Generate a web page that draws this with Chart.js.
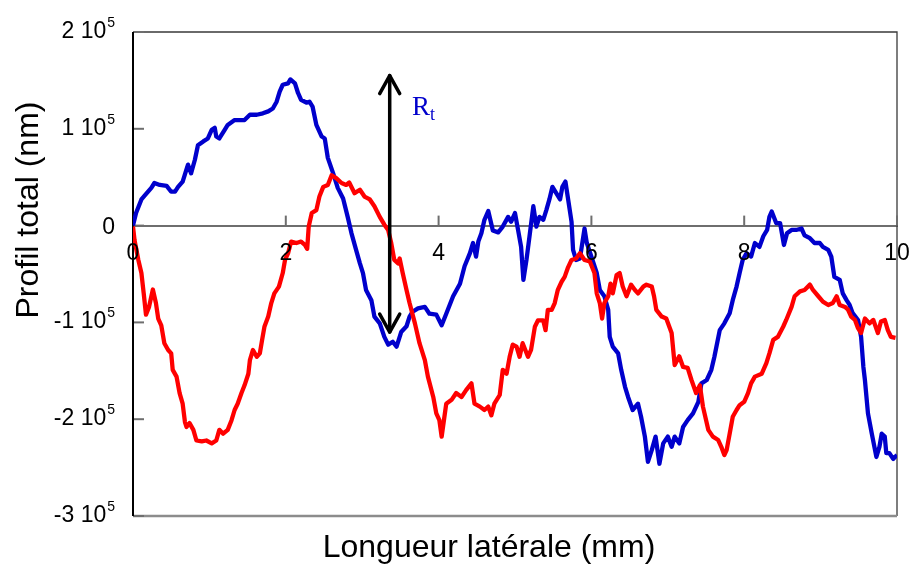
<!DOCTYPE html>
<html>
<head>
<meta charset="utf-8">
<script src="https://cdn.jsdelivr.net/npm/chart.js@4.4.0/dist/chart.umd.min.js"></script>
<style>
    html, body { margin: 0; padding: 0; background: #fff; }
    #wrap { width: 912px; height: 565px; }
</style>
</head>
<body>
<div id="wrap"><canvas id="profil" width="912" height="565"></canvas></div>
<script>
// lateral position (mm) and total profile (units of 10^5 nm)
var blueX = [0.00, 0.04, 0.11, 0.18, 0.24, 0.28, 0.35, 0.44, 0.50, 0.55, 0.59, 0.65, 0.70, 0.72, 0.76, 0.81, 0.85, 0.92, 0.98,
    1.03, 1.07, 1.09, 1.13, 1.20, 1.24, 1.33, 1.46, 1.53, 1.62, 1.70, 1.77, 1.83, 1.88, 1.92, 1.96, 2.03, 2.06, 2.12, 2.16,
    2.20, 2.27, 2.31, 2.35, 2.40, 2.47, 2.51, 2.55, 2.62, 2.68, 2.75, 2.81, 2.86, 2.92, 2.97, 3.01, 3.05, 3.12, 3.16, 3.23,
    3.29, 3.34, 3.40, 3.45, 3.51, 3.58, 3.62, 3.66, 3.73, 3.82, 3.88, 3.97, 4.04, 4.10, 4.19, 4.28, 4.34, 4.41, 4.45, 4.49,
    4.52, 4.56, 4.60, 4.65, 4.71, 4.78, 4.84, 4.91, 4.95, 5.00, 5.04, 5.08, 5.11, 5.15, 5.19, 5.24, 5.28, 5.32, 5.37, 5.41,
    5.45, 5.49, 5.54, 5.59, 5.62, 5.66, 5.69, 5.74, 5.76, 5.80, 5.85, 5.91, 5.94, 6.00, 6.07, 6.11, 6.17, 6.22, 6.24, 6.28,
    6.35, 6.39, 6.44, 6.48, 6.54, 6.61, 6.65, 6.70, 6.74, 6.79, 6.84, 6.89, 6.94, 7.00, 7.05, 7.09, 7.15, 7.20, 7.26, 7.33,
    7.40, 7.44, 7.51, 7.57, 7.61, 7.68, 7.74, 7.81, 7.85, 7.90, 7.94, 7.98, 8.03, 8.09, 8.14, 8.20, 8.25, 8.30, 8.33, 8.36,
    8.42, 8.47, 8.52, 8.56, 8.62, 8.68, 8.75, 8.79, 8.86, 8.92, 8.99, 9.03, 9.10, 9.14, 9.18, 9.25, 9.29, 9.34, 9.38, 9.42,
    9.49, 9.53, 9.56, 9.58, 9.62, 9.67, 9.73, 9.77, 9.80, 9.84, 9.86, 9.90, 9.95, 10.00];
var blueY = [0, 0.13, 0.27, 0.335, 0.39, 0.44, 0.42, 0.41, 0.35, 0.35, 0.40, 0.455, 0.58, 0.63, 0.54, 0.68, 0.83, 0.87, 0.90,
    0.99, 1.01, 0.92, 0.90, 0.99, 1.04, 1.09, 1.09, 1.145, 1.145, 1.16, 1.18, 1.21, 1.28, 1.385, 1.455, 1.47, 1.51, 1.47, 1.37,
    1.30, 1.27, 1.28, 1.23, 1.04, 0.92, 0.90, 0.70, 0.54, 0.39, 0.28, 0.09, -0.08, -0.25, -0.39, -0.49, -0.665, -0.77, -0.94, -1.01,
    -1.15, -1.23, -1.20, -1.25, -1.10, -1.04, -0.94, -0.89, -0.855, -0.84, -0.91, -0.92, -1.03, -0.91, -0.73, -0.60, -0.42, -0.285, -0.18, -0.32,
    -0.165, -0.08, 0.06, 0.15, -0.05, -0.07, -0.01, 0.09, 0.04, 0.13, -0.045, -0.22, -0.56, -0.355, -0.11, 0.20, -0.01, 0.09, 0.06, 0.16,
    0.27, 0.40, 0.335, 0.27, 0.40, 0.455, 0.30, 0.04, -0.25, -0.355, -0.34, -0.03, -0.18, -0.32, -0.49, -0.665, -0.73, -0.87, -1.15, -1.25,
    -1.32, -1.49, -1.665, -1.77, -1.905, -1.84, -1.975, -2.18, -2.44, -2.32, -2.18, -2.46, -2.25, -2.18, -2.285, -2.18, -2.25, -2.08, -2.01, -1.94,
    -1.82, -1.63, -1.595, -1.49, -1.355, -1.08, -1.01, -0.905, -0.77, -0.63, -0.49, -0.355, -0.285, -0.32, -0.18, -0.22, -0.11, -0.045, 0.09, 0.145,
    0.025, 0.025, -0.20, -0.08, -0.045, -0.045, -0.03, -0.10, -0.13, -0.18, -0.18, -0.22, -0.25, -0.32, -0.53, -0.56, -0.70, -0.77, -0.82, -0.905,
    -0.975, -1.15, -1.46, -1.595, -1.94, -2.15, -2.39, -2.285, -2.15, -2.18, -2.35, -2.35, -2.41, -2.37];

var redX = [0.00, 0.02, 0.07, 0.11, 0.14, 0.17, 0.21, 0.26, 0.30, 0.33, 0.37, 0.41, 0.46, 0.50, 0.52, 0.57, 0.61, 0.65, 0.68,
    0.70, 0.74, 0.79, 0.83, 0.90, 0.96, 1.03, 1.09, 1.13, 1.18, 1.24, 1.29, 1.33, 1.37, 1.42, 1.46, 1.51, 1.53, 1.57, 1.62,
    1.66, 1.69, 1.72, 1.77, 1.81, 1.85, 1.91, 1.96, 1.99, 2.03, 2.07, 2.14, 2.20, 2.25, 2.28, 2.30, 2.34, 2.40, 2.44, 2.49,
    2.55, 2.60, 2.66, 2.73, 2.79, 2.83, 2.90, 2.97, 3.03, 3.10, 3.16, 3.23, 3.29, 3.34, 3.38, 3.42, 3.47, 3.49, 3.53, 3.58,
    3.62, 3.69, 3.75, 3.82, 3.86, 3.93, 3.97, 4.01, 4.04, 4.07, 4.10, 4.17, 4.23, 4.30, 4.36, 4.43, 4.47, 4.54, 4.60, 4.65,
    4.69, 4.73, 4.80, 4.84, 4.89, 4.93, 4.97, 5.02, 5.06, 5.10, 5.17, 5.21, 5.26, 5.30, 5.37, 5.40, 5.43, 5.48, 5.52, 5.56,
    5.61, 5.65, 5.69, 5.74, 5.80, 5.85, 5.91, 5.98, 6.04, 6.07, 6.11, 6.14, 6.17, 6.22, 6.25, 6.28, 6.33, 6.37, 6.41, 6.46,
    6.52, 6.57, 6.61, 6.68, 6.72, 6.79, 6.82, 6.85, 6.92, 6.98, 7.05, 7.09, 7.15, 7.20, 7.26, 7.31, 7.37, 7.42, 7.46, 7.53,
    7.59, 7.66, 7.70, 7.74, 7.77, 7.81, 7.85, 7.90, 7.94, 8.00, 8.05, 8.09, 8.14, 8.23, 8.29, 8.33, 8.38, 8.44, 8.51, 8.55,
    8.62, 8.66, 8.73, 8.79, 8.86, 8.90, 8.97, 9.03, 9.10, 9.16, 9.21, 9.25, 9.32, 9.36, 9.40, 9.45, 9.49, 9.53, 9.58, 9.64,
    9.69, 9.75, 9.79, 9.84, 9.88, 9.92, 9.98];
var redY = [-0.01, -0.15, -0.355, -0.49, -0.70, -0.92, -0.84, -0.66, -0.80, -0.96, -1.03, -1.215, -1.285, -1.32, -1.49, -1.56, -1.73, -1.84, -2.03,
    -2.08, -2.04, -2.11, -2.22, -2.23, -2.22, -2.25, -2.22, -2.11, -2.15, -2.11, -2.01, -1.905, -1.84, -1.73, -1.65, -1.53, -1.39, -1.285, -1.355,
    -1.32, -1.18, -1.045, -0.94, -0.80, -0.70, -0.63, -0.49, -0.355, -0.285, -0.165, -0.18, -0.165, -0.20, -0.24, -0.01, 0.13, 0.16, 0.30, 0.40,
    0.42, 0.52, 0.49, 0.44, 0.42, 0.445, 0.335, 0.37, 0.30, 0.27, 0.20, 0.09, 0.01, -0.045, -0.18, -0.355, -0.39, -0.34, -0.49, -0.665,
    -0.80, -1.01, -1.215, -1.39, -1.56, -1.77, -1.94, -2.01, -2.18, -2.01, -1.84, -1.80, -1.73, -1.77, -1.70, -1.63, -1.84, -1.87, -1.905, -1.87,
    -1.96, -1.84, -1.75, -1.49, -1.53, -1.355, -1.23, -1.25, -1.355, -1.215, -1.355, -1.285, -1.045, -0.98, -0.98, -1.08, -0.87, -0.87, -0.80, -0.665,
    -0.58, -0.53, -0.44, -0.355, -0.34, -0.285, -0.355, -0.37, -0.49, -0.70, -0.80, -0.96, -0.80, -0.73, -0.60, -0.70, -0.51, -0.49, -0.63, -0.73,
    -0.61, -0.665, -0.70, -0.63, -0.61, -0.63, -0.73, -0.87, -0.94, -0.96, -1.11, -1.44, -1.35, -1.46, -1.47, -1.595, -1.73, -1.65, -1.87, -2.11,
    -2.18, -2.215, -2.285, -2.37, -2.32, -2.15, -1.975, -1.905, -1.855, -1.82, -1.73, -1.63, -1.56, -1.53, -1.42, -1.32, -1.18, -1.15, -1.045, -0.975,
    -0.84, -0.73, -0.68, -0.665, -0.61, -0.665, -0.73, -0.785, -0.82, -0.80, -0.73, -0.82, -0.84, -0.87, -0.94, -0.975, -1.06, -1.11, -0.96, -1.01,
    -0.975, -1.11, -0.99, -0.975, -1.08, -1.15, -1.16];

var xTicks = [0, 2, 4, 6, 8, 10];
var yTicks = [2, 1, 0, -1, -2, -3];

// R_t arrow (mm, 10^5 nm)
var rtX = 3.36;
var rtTop = 1.56;
var rtBottom = -1.11;

var SANS = "'Liberation Sans', Arial, sans-serif";
var SERIF = "'Liberation Serif', 'Times New Roman', serif";

function toPoints(xs, ys) {
    var pts = [];
    for (var i = 0; i < xs.length; i++) {
        pts.push({ x: xs[i], y: ys[i] });
    }
    return pts;
}

var decor = {
    id: 'decor',
    beforeDatasetsDraw: function (chart) {
        var ctx = chart.ctx;
        var a = chart.chartArea;
        var xs = chart.scales.x;
        var ys = chart.scales.y;
        var y0 = ys.getPixelForValue(0);

        ctx.save();
        // box
        ctx.strokeStyle = '#3a3a3a';
        ctx.lineWidth = 1.3;
        ctx.beginPath();
        ctx.moveTo(a.left, a.top);
        ctx.lineTo(a.right, a.top);
        ctx.lineTo(a.right, a.bottom);
        ctx.stroke();

        ctx.strokeStyle = '#8c8c8c';
        ctx.lineWidth = 2.5;
        ctx.beginPath();
        ctx.moveTo(a.left, a.bottom);
        ctx.lineTo(a.right, a.bottom);
        ctx.stroke();

        // inward y tick marks
        ctx.strokeStyle = '#6e6e6e';
        ctx.lineWidth = 2;
        yTicks.forEach(function (v) {
            var py = ys.getPixelForValue(v);
            ctx.beginPath();
            ctx.moveTo(a.left, py);
            ctx.lineTo(a.left + 11, py);
            ctx.stroke();
        });

        // x tick marks pointing up from the zero line
        xTicks.forEach(function (v) {
            if (v === 0) return;
            var px = xs.getPixelForValue(v);
            ctx.beginPath();
            ctx.moveTo(px, y0);
            ctx.lineTo(px, y0 - 10);
            ctx.stroke();
        });

        ctx.strokeStyle = '#000';
        ctx.lineWidth = 2;
        ctx.beginPath();
        ctx.moveTo(a.left, a.top);
        ctx.lineTo(a.left, a.bottom);
        ctx.stroke();
        ctx.restore();
    },
    afterDraw: function (chart) {
        var ctx = chart.ctx;
        var xs = chart.scales.x;
        var ys = chart.scales.y;

        ctx.save();
        // y tick labels: "n 10^5"
        ctx.fillStyle = '#000';
        ctx.textBaseline = 'alphabetic';
        yTicks.forEach(function (v) {
            var py = ys.getPixelForValue(v);
            var right = 115;
            var base = py + 6;
            if (v === 0) {
                ctx.font = '23px ' + SANS;
                ctx.textAlign = 'right';
                ctx.fillText('0', right, py + 8);
                return;
            }
            ctx.font = '14px ' + SANS;
            ctx.textAlign = 'right';
            ctx.fillText('5', right, base - 11);
            var sw = ctx.measureText('5').width;
            ctx.font = '23px ' + SANS;
            ctx.fillText(v + ' 10', right - sw - 1, base);
        });

        // axis titles
        ctx.font = '32px ' + SANS;
        ctx.textAlign = 'center';
        ctx.fillText('Longueur latérale (mm)', 489, 557);

        ctx.save();
        ctx.translate(38, 210);
        ctx.rotate(-Math.PI / 2);
        ctx.fillText('Profil total (nm)', 0, 0);
        ctx.restore();

        // R_t double arrow
        var ax = xs.getPixelForValue(rtX);
        var at = ys.getPixelForValue(rtTop);
        var ab = ys.getPixelForValue(rtBottom);
        ctx.strokeStyle = '#000';
        ctx.lineWidth = 3.5;
        ctx.lineCap = 'round';
        ctx.lineJoin = 'round';
        ctx.beginPath();
        ctx.moveTo(ax, at + 1);
        ctx.lineTo(ax, ab - 1);
        ctx.stroke();
        ctx.beginPath();
        ctx.moveTo(ax - 10, at + 19);
        ctx.lineTo(ax, at + 1);
        ctx.lineTo(ax + 10, at + 19);
        ctx.moveTo(ax - 10, ab - 19);
        ctx.lineTo(ax, ab - 1);
        ctx.lineTo(ax + 10, ab - 19);
        ctx.stroke();

        ctx.fillStyle = '#0000cc';
        ctx.textAlign = 'left';
        ctx.font = '27px ' + SERIF;
        ctx.fillText('R', 412, 115);
        var rw = ctx.measureText('R').width;
        ctx.font = '18px ' + SERIF;
        ctx.fillText('t', 412 + rw, 120);
        ctx.restore();
    }
};

var chart = new Chart(document.getElementById('profil'), {
    type: 'line',
    data: {
        datasets: [{
            label: 'rouge',
            data: toPoints(redX, redY),
            borderColor: '#ff0000',
            borderWidth: 4.3,
            pointRadius: 0,
            tension: 0,
            fill: false,
            borderJoinStyle: 'round'
        }, {
            label: 'bleu',
            data: toPoints(blueX, blueY),
            borderColor: '#0000cc',
            borderWidth: 4.3,
            pointRadius: 0,
            tension: 0,
            fill: false,
            borderJoinStyle: 'round'
        }]
    },
    options: {
        responsive: false,
        animation: false,
        devicePixelRatio: 1,
        layout: { padding: { left: 133, top: 32, right: 15, bottom: 49 } },
        plugins: {
            legend: { display: false },
            tooltip: { enabled: false },
            title: { display: false }
        },
        scales: {
            x: {
                type: 'linear',
                min: 0,
                max: 10,
                position: { y: 0 },
                grid: { display: false, drawTicks: false },
                border: { display: true, color: '#6e6e6e', width: 2 },
                ticks: {
                    stepSize: 2,
                    padding: 14,
                    color: '#000',
                    z: 1,
                    maxRotation: 0,
                    font: { family: SANS, size: 23 }
                },
                afterFit: function (scale) {
                    // the end labels may spill past the box, as in the original
                    scale.paddingLeft = 0;
                    scale.paddingRight = 0;
                }
            },
            y: {
                type: 'linear',
                min: -3,
                max: 2,
                display: false,
                ticks: { stepSize: 1 }
            }
        }
    },
    plugins: [decor]
});
</script>
</body>
</html>
